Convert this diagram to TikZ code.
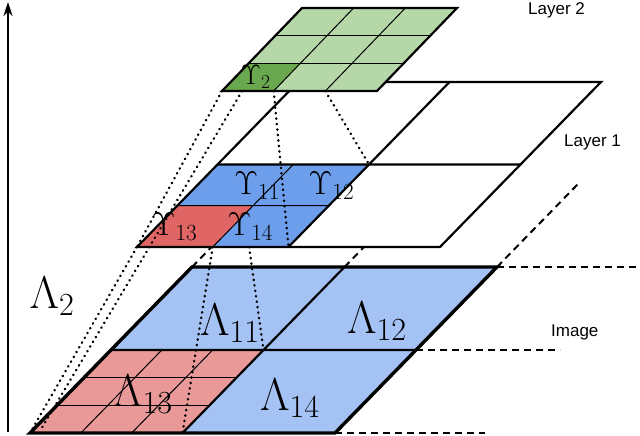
\documentclass[tikz,border=0pt]{standalone}
\usepackage{fix-cm}
\usepackage{fontspec}
\newfontfamily\lab{Liberation Sans}
\usetikzlibrary{arrows.meta}
\definecolor{imblue}{HTML}{A4C2F4}
\definecolor{imred}{HTML}{EA9999}
\definecolor{lblue}{HTML}{6D9EEB}
\definecolor{lred}{HTML}{E06666}
\definecolor{glight}{HTML}{B6D7A8}
\definecolor{gdark}{HTML}{6AA84F}
\tikzset{
  thickedge/.style={line width=3.4pt},
  edge/.style={line width=2.2pt},
  thin/.style={line width=1pt},
  dotline/.style={line width=2.4pt, dash pattern=on 0.5pt off 5pt, line cap=round},
  dashline/.style={line width=2pt, dash pattern=on 7pt off 5pt},
  biglab/.style={font=\fontsize{46}{46}\selectfont, inner sep=0pt},
  midlab/.style={font=\fontsize{33}{33}\selectfont, inner sep=0pt},
  smlab/.style={font=\fontsize{28}{28}\selectfont, inner sep=0pt},
  txtlab/.style={font=\lab\fontsize{17}{17}\selectfont, inner sep=0pt, anchor=west}
}
\begin{document}
\begin{tikzpicture}[x=1pt,y=1pt]
\useasboundingbox (0,0) rectangle (640,436);
% ---------- Image plane ----------
\begin{scope}[shift={(30,3)}, x={(305pt,0pt)}, y={(162pt,166pt)}]
  \fill[imblue] (0,0) -- (1,0) -- (1,1) -- (0,1) -- cycle;
  \fill[imred] (0,0) -- (0.5,0) -- (0.5,0.5) -- (0,0.5) -- cycle;
  \foreach \t in {1/6,2/6} {
    \draw[thin] (\t,0) -- (\t,0.5);
    \draw[thin] (0,\t) -- (0.5,\t);
  }
  \draw[thickedge] (0,0) -- (1,0) -- (1,1) -- (0,1) -- cycle;
  \draw[edge] (0.5,0) -- (0.5,1) (0,0.5) -- (1,0.5);
  \coordinate (iBL) at (0,0);
  \coordinate (iBM) at (0.5,0);
  \coordinate (iBR) at (1,0);
  \coordinate (iMR) at (1,0.5);
  \coordinate (iTL) at (0,1);
  \coordinate (iTM) at (0.5,1);
  \coordinate (iTR) at (1,1);
  \coordinate (iC) at (0.5,0.5);
  \coordinate (dTL) at (0,1.15);
  \coordinate (dTM) at (0.5,1.15);
  \coordinate (dTR) at (1,1.5);
\end{scope}
\coordinate (eR1) at (640,169);
\coordinate (eR2) at (560,86);
\coordinate (eR3) at (485,3);
\draw[dashline] (iTR) -- (eR1);
\draw[dashline] (iMR) -- (eR2);
\draw[dashline] (iBR) -- (eR3);
\draw[dashline] (iTL) -- (dTL);
\draw[dashline] (iTM) -- (dTM);
\draw[dashline] (iTR) -- (dTR);
\node[biglab] (L11) at (230,113) {$\Lambda_{11}$};
\node[biglab] (L12) at (377,115) {$\Lambda_{12}$};
\node[biglab] (L13) at (143,42) {$\Lambda_{13}$};
\node[biglab] (L14) at (290,38) {$\Lambda_{14}$};
% ---------- Layer 1 ----------
\begin{scope}[shift={(137,189)}, x={(303pt,0pt)}, y={(161pt,165pt)}]
  \fill[white] (0,0) -- (1,0) -- (1,1) -- (0,1) -- cycle;
  \fill[lblue] (0,0) -- (0.5,0) -- (0.5,0.5) -- (0,0.5) -- cycle;
  \fill[lred] (0,0) -- (0.25,0) -- (0.25,0.25) -- (0,0.25) -- cycle;
  \draw[thin] (0.25,0) -- (0.25,0.5) (0,0.25) -- (0.5,0.25);
  \draw[edge] (0,0) -- (1,0) -- (1,1) -- (0,1) -- cycle;
  \draw[edge] (0.5,0) -- (0.5,1) (0,0.5) -- (1,0.5);
  \coordinate (aBL) at (0,0);
  \coordinate (aBQ) at (0.25,0);
  \coordinate (aBM) at (0.5,0);
  \coordinate (aBX) at (0.37,0);
  \coordinate (aMM) at (0.5,0.5);
  \node[midlab] (U11) at (0.2,0.37) {$\Upsilon_{11}$};
  \node[midlab] (U12) at (0.445,0.37) {$\Upsilon_{12}$};
  \node[midlab] (U13) at (0.06,0.12) {$\Upsilon_{13}$};
  \node[midlab] (U14) at (0.31,0.12) {$\Upsilon_{14}$};
\end{scope}
% ---------- Layer 2 ----------
\begin{scope}[shift={(222,345)}, x={(155pt,0pt)}, y={(80pt,83pt)}]
  \fill[glight] (0,0) -- (1,0) -- (1,1) -- (0,1) -- cycle;
  \fill[gdark] (0,0) -- (1/3,0) -- (1/3,1/3) -- (0,1/3) -- cycle;
  \foreach \t in {1/3,2/3} {
    \draw[thin] (\t,0) -- (\t,1);
    \draw[thin] (0,\t) -- (1,\t);
  }
  \draw[edge] (0,0) -- (1,0) -- (1,1) -- (0,1) -- cycle;
  \coordinate (bBL) at (0,0);
  \coordinate (bB1) at (0.13,0);
  \coordinate (bB2) at (1/3,0);
  \coordinate (bB3) at (2/3,0);
  \node[smlab] (U2) at (0.13,0.17) {$\Upsilon_{2}$};
\end{scope}
% ---------- dotted ----------
\draw[dotline] (bBL) -- (aBL);
\draw[dotline] (aBL) -- (iBL);
\draw[dotline] (bB1) -- ([xshift=10pt,yshift=2pt]iBL);
\draw[dotline] (bB2) -- (aBM);
\draw[dotline] (bB3) -- (aMM);
\draw[dotline] (aBQ) -- (iBM);
\draw[dotline] (aBX) -- (iC);
% ---------- labels ----------
\node[txtlab] (T2) at (528,426) {Layer 2};
\node[txtlab] (T1) at (564,294) {Layer 1};
\node[txtlab] (T0) at (551,104) {Image};
\node[biglab] (LA2) at (52,140) {$\Lambda_2$};
\coordinate (ab) at (8,4);
\coordinate (at) at (8,434);
\draw[line width=2.5pt, -{Stealth[length=14pt,width=9pt]}] (ab) -- (at);
\end{tikzpicture}
\end{document}
